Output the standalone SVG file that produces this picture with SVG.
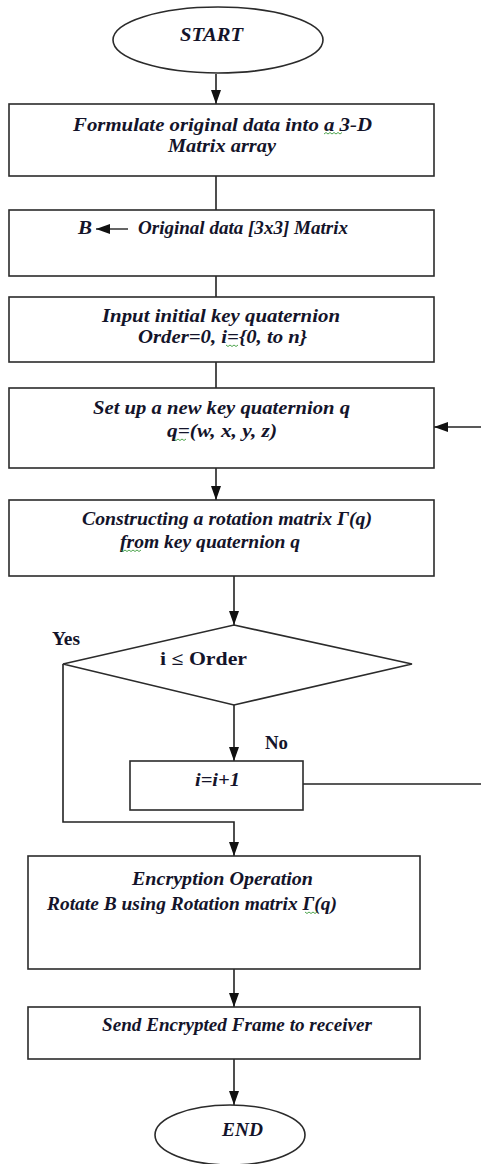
<svg xmlns="http://www.w3.org/2000/svg" width="481" height="1164" viewBox="0 0 481 1164">
  <style>
    .shape { fill: #fff; stroke: #2b2b2b; stroke-width: 1.6; }
    .wire { fill: none; stroke: #222; stroke-width: 1.6; }
    .t { font-family: "Liberation Serif", serif; font-weight: bold; font-style: italic; font-size: 18.5px; fill: #14142a; }
    .b { font-family: "Liberation Serif", serif; font-weight: bold; font-size: 18px; fill: #14142a; }
    .sq { fill: none; stroke: #3a9a3a; stroke-width: 0.9; }
  </style>
  <defs>
    <marker id="arrow" viewBox="0 0 14 10" refX="14" refY="5" markerWidth="14" markerHeight="10" markerUnits="userSpaceOnUse" orient="auto">
      <path d="M0,0 L14,5 L0,10 z" fill="#111"/>
    </marker>
  </defs>
  <rect width="481" height="1164" fill="#fff"/>

  <!-- connectors -->
  <g id="connectors">
    <line class="wire" x1="216" y1="74" x2="216" y2="104" marker-end="url(#arrow)"/>
    <line class="wire" x1="216" y1="176" x2="216" y2="210"/>
    <line class="wire" x1="216" y1="276" x2="216" y2="297"/>
    <line class="wire" x1="216" y1="362" x2="216" y2="388"/>
    <line class="wire" x1="481" y1="427" x2="434" y2="427" marker-end="url(#arrow)"/>
    <line class="wire" x1="216" y1="468" x2="216" y2="500" marker-end="url(#arrow)"/>
    <line class="wire" x1="234" y1="576" x2="234" y2="625" marker-end="url(#arrow)"/>
    <line class="wire" x1="234" y1="705" x2="234" y2="761" marker-end="url(#arrow)"/>
    <line class="wire" x1="303" y1="784" x2="481" y2="784"/>
    <polyline class="wire" points="63,664 63,822 234,822 234,856" marker-end="url(#arrow)"/>
    <line class="wire" x1="234" y1="969" x2="234" y2="1007" marker-end="url(#arrow)"/>
    <line class="wire" x1="234" y1="1059" x2="234" y2="1105" marker-end="url(#arrow)"/>
  </g>

  <g id="start">
    <ellipse class="shape" cx="218" cy="40" rx="105" ry="33"/>
    <text class="t" x="180" y="41" font-size="20" textLength="63" lengthAdjust="spacingAndGlyphs">START</text>
  </g>

  <g id="formulate">
    <rect class="shape" x="9" y="104" width="425" height="72"/>
    <text class="t" x="73" y="131" textLength="299" lengthAdjust="spacingAndGlyphs">Formulate original data into a 3-D</text>
    <text class="t" x="168" y="152" textLength="108" lengthAdjust="spacingAndGlyphs">Matrix array</text>
    <path class="sq" d="M324,134 l2,-1.5 l2,1.5 l2,-1.5 l2,1.5 l2,-1.5 l2,1.5 l2,-1.5 l2,1.5 l2,-1.5"/>
  </g>

  <g id="original-data">
    <rect class="shape" x="9" y="210" width="425" height="66"/>
    <text class="t" x="78" y="234" textLength="14" lengthAdjust="spacingAndGlyphs">B</text>
    <line x1="128" y1="229" x2="96" y2="229" stroke="#111" stroke-width="1.3" marker-end="url(#arrow)"/>
    <text class="t" x="138" y="234" textLength="210" lengthAdjust="spacingAndGlyphs">Original data [3x3] Matrix</text>
  </g>

  <g id="input-key">
    <rect class="shape" x="9" y="297" width="425" height="65"/>
    <text class="t" x="102" y="322" textLength="238" lengthAdjust="spacingAndGlyphs">Input initial key quaternion</text>
    <text class="t" x="138" y="343" textLength="169" lengthAdjust="spacingAndGlyphs">Order=0, i={0, to n}</text>
    <path class="sq" d="M226,345 l2,1.5 l2,-1.5 l2,1.5 l2,-1.5 l2,1.5 l2,-1.5"/>
  </g>

  <g id="new-key">
    <rect class="shape" x="9" y="388" width="425" height="80"/>
    <text class="t" x="93" y="414" textLength="257" lengthAdjust="spacingAndGlyphs">Set up a new key quaternion  q</text>
    <text class="t" x="167" y="437" textLength="110" lengthAdjust="spacingAndGlyphs">q=(w, x, y, z)</text>
    <path class="sq" d="M174,439 l2,1.5 l2,-1.5 l2,1.5 l2,-1.5 l2,1.5 l2,-1.5"/>
  </g>

  <g id="rotation-matrix">
    <rect class="shape" x="9" y="500" width="425" height="76"/>
    <text class="t" x="82" y="525" textLength="290" lengthAdjust="spacingAndGlyphs">Constructing a rotation matrix Γ(q)</text>
    <text class="t" x="120" y="548" textLength="180" lengthAdjust="spacingAndGlyphs">from key quaternion q</text>
    <path class="sq" d="M121,550 l2,1.5 l2,-1.5 l2,1.5 l2,-1.5 l2,1.5 l2,-1.5 l2,1.5 l2,-1.5 l2,1.5 l2,-1.5"/>
  </g>

  <g id="decision">
    <polygon class="shape" points="234,625 412,664 234,705 63,664"/>
    <text class="b" x="160" y="665" textLength="87" lengthAdjust="spacingAndGlyphs">i ≤ Order</text>
    <text class="b" x="52" y="645" font-size="16" textLength="28" lengthAdjust="spacingAndGlyphs">Yes</text>
    <text class="b" x="265" y="749" font-size="16" textLength="23" lengthAdjust="spacingAndGlyphs">No</text>
  </g>

  <g id="increment">
    <rect class="shape" x="130" y="761" width="173" height="49"/>
    <text class="t" x="195" y="786" textLength="45" lengthAdjust="spacingAndGlyphs">i=i+1</text>
  </g>

  <g id="encryption">
    <rect class="shape" x="28" y="856" width="392" height="113"/>
    <text class="t" x="132" y="885" textLength="181" lengthAdjust="spacingAndGlyphs">Encryption  Operation</text>
    <text class="t" x="47" y="910" textLength="290" lengthAdjust="spacingAndGlyphs">Rotate B using Rotation matrix Γ(q)</text>
    <path class="sq" d="M305,912 l2,1.5 l2,-1.5 l2,1.5 l2,-1.5 l2,1.5 l2,-1.5"/>
  </g>

  <g id="send">
    <rect class="shape" x="28" y="1007" width="392" height="52"/>
    <text class="t" x="102" y="1031" textLength="270" lengthAdjust="spacingAndGlyphs">Send Encrypted Frame to receiver</text>
  </g>

  <g id="end">
    <ellipse class="shape" cx="230" cy="1135" rx="75" ry="30"/>
    <text class="t" x="222" y="1136" font-size="19" textLength="41" lengthAdjust="spacingAndGlyphs">END</text>
  </g>
</svg>
